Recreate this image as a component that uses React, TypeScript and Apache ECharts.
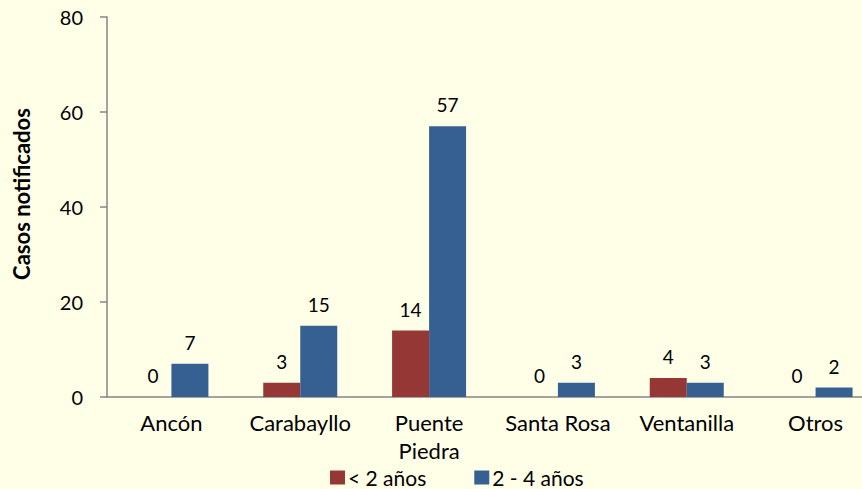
import React, { useEffect, useRef } from "react";
import * as echarts from "echarts";

const categories = ["Ancón", "Carabayllo", "Puente Piedra", "Santa Rosa", "Ventanilla", "Otros"];
const menores2 = [0, 3, 14, 0, 4, 0];
const de2a4 = [7, 15, 57, 3, 3, 2];
const seriesNames = ["< 2 años", "2 - 4 años"];
const yTicks = { min: 0, max: 80, interval: 20 };
const yAxisTitle = "Casos notificados";

const FONT = "Lato";

export default function App() {
  const ref = useRef<HTMLDivElement>(null);
  useEffect(() => {
    if (!ref.current) return;
    const chart = echarts.init(ref.current, null, { renderer: "svg" });
    const labelStyle = {
      show: true,
      position: "top" as const,
      distance: 12,
      color: "#000",
      fontSize: 19,
      fontFamily: FONT,
    };
    chart.setOption({
      animation: false,
      backgroundColor: "#FFFFE8",
      textStyle: { fontFamily: FONT },
      grid: { left: 107, top: 17, width: 773, height: 380, outerBoundsMode: "none", containLabel: false },
      legend: {
        left: 325,
        top: 462,
        itemWidth: 15,
        itemHeight: 14,
        itemGap: 48,
        icon: "rect",
        textStyle: { fontSize: 21, color: "#000", fontFamily: FONT, padding: [0, 0, 0, -2] },
        data: seriesNames,
      },
      graphic: [
        {
          type: "text",
          x: 21,
          y: 194,
          rotation: Math.PI / 2,
          style: {
            text: yAxisTitle,
            fontSize: 22,
            fontWeight: "bold",
            fontFamily: FONT,
            fill: "#000",
            align: "center",
            verticalAlign: "middle",
          },
        },
      ],
      xAxis: {
        type: "category",
        data: categories,
        axisLine: { lineStyle: { color: "#868686", width: 1.5 } },
        axisTick: { show: false },
        axisLabel: {
          interval: 0,
          margin: 11,
          fontSize: 22,
          color: "#000",
          fontFamily: FONT,
          lineHeight: 28,
          formatter: (v: string) => (v === "Puente Piedra" ? "Puente\nPiedra" : v),
        },
      },
      yAxis: {
        type: "value",
        min: yTicks.min,
        max: yTicks.max,
        interval: yTicks.interval,
        axisLine: { show: true, lineStyle: { color: "#868686", width: 1.5 } },
        axisTick: { show: true, length: 7, lineStyle: { color: "#868686", width: 1.5 } },
        splitLine: { show: false },
        axisLabel: { margin: 24, fontSize: 20, color: "#000", fontFamily: FONT },
      },
      series: [
        {
          name: seriesNames[0],
          type: "bar",
          data: menores2,
          barWidth: 37,
          barGap: "0%",
          itemStyle: { color: "#953735" },
          label: labelStyle,
        },
        {
          name: seriesNames[1],
          type: "bar",
          data: de2a4,
          barWidth: 37,
          barGap: "0%",
          itemStyle: { color: "#376092" },
          label: labelStyle,
        },
      ],
    });
    return () => chart.dispose();
  }, []);
  return (
    <div
      ref={ref}
      style={{ position: "absolute", left: 0, top: 0, width: 862, height: 489 }}
    />
  );
}
